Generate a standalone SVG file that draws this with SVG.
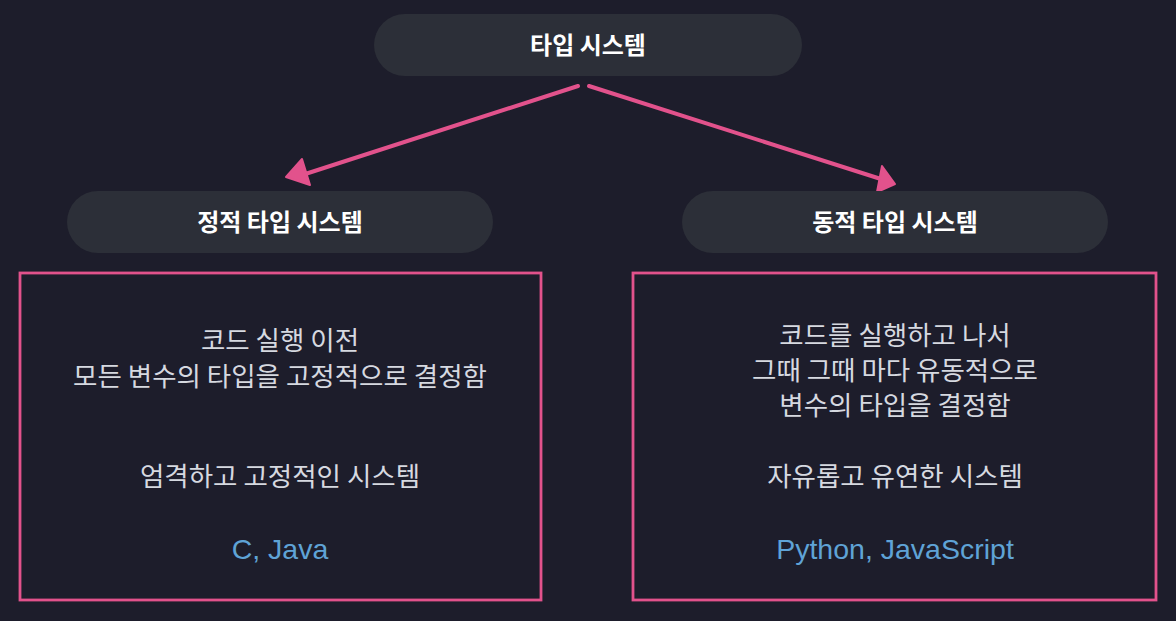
<svg xmlns="http://www.w3.org/2000/svg" width="1176" height="621" viewBox="0 0 1176 621">
  <defs>
    <style>
      .pill { fill: #2c2f38; }
      .title { font-family: "Noto Sans CJK KR", "Noto Sans", sans-serif; font-weight: 700; font-size: 24px; fill: #ffffff; text-anchor: middle; }
      .body { font-family: "Noto Sans CJK KR", "Noto Sans", sans-serif; font-size: 26.5px; fill: #d6d9e0; text-anchor: middle; }
      .lang { font-family: "Liberation Sans", "Noto Sans CJK KR", sans-serif; font-size: 28.5px; fill: #5fa3d6; text-anchor: middle; }
      .frame { fill: none; stroke: #e2528c; stroke-width: 2.8; }
      .conn { fill: none; stroke: #e2528c; stroke-width: 4; stroke-linecap: round; }
      .head { fill: #e2528c; stroke: #e2528c; stroke-width: 2; stroke-linejoin: round; }
    </style>
  </defs>
  <rect x="0" y="0" width="1176" height="621" fill="#1d1d2b"/>

  <g id="connectors">
    <path class="conn" d="M578 86 L296 177"/>
    <polygon class="head" points="286,177 302,159 310,185"/>
    <path class="conn" d="M589 86 L884 180"/>
    <polygon class="head" points="895,184 877,192 882,166"/>
  </g>

  <g id="node-root">
    <rect class="pill" x="374" y="14" width="428" height="62" rx="31"/>
    <text class="title" x="588" y="54">타입 시스템</text>
  </g>

  <g id="node-static">
    <rect class="pill" x="67" y="191" width="426" height="62" rx="31"/>
    <text class="title" x="280" y="231">정적 타입 시스템</text>
  </g>

  <g id="node-dynamic">
    <rect class="pill" x="682" y="191" width="426" height="62" rx="31"/>
    <text class="title" x="895" y="231">동적 타입 시스템</text>
  </g>

  <g id="box-static">
    <rect class="frame" x="20" y="273" width="521" height="327"/>
    <text class="body" x="280" y="350">코드 실행 이전</text>
    <text class="body" x="280" y="386">모든 변수의 타입을 고정적으로 결정함</text>
    <text class="body" x="280" y="486">엄격하고 고정적인 시스템</text>
    <text class="lang" x="280" y="559">C, Java</text>
  </g>

  <g id="box-dynamic">
    <rect class="frame" x="633" y="273" width="523" height="327"/>
    <text class="body" x="895" y="345">코드를 실행하고 나서</text>
    <text class="body" x="895" y="380">그때 그때 마다 유동적으로</text>
    <text class="body" x="895" y="415">변수의 타입을 결정함</text>
    <text class="body" x="895" y="486">자유롭고 유연한 시스템</text>
    <text class="lang" x="895" y="559">Python, JavaScript</text>
  </g>
</svg>
